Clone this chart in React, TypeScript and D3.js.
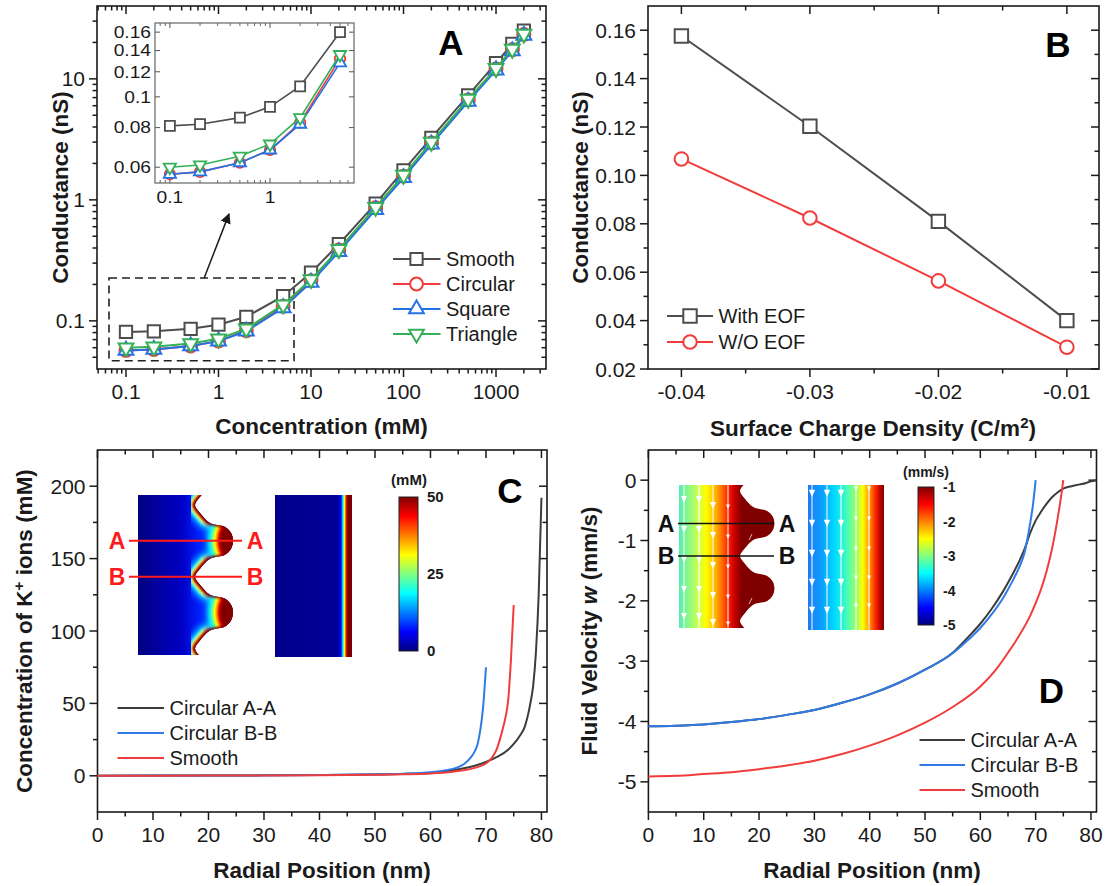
import React from "react";
import * as d3 from "d3";

const FONT = "'Liberation Sans', Arial, Helvetica, sans-serif";
const INK = "#1a1a1a";
const GRAY = "#4d4d4d";
const RED = "#f23c3c";
const BLUE = "#2472e3";
const GREEN = "#34b058";

// ---- A: conductance vs concentration (log-log) ----
const concentration = [0.1, 0.2, 0.5, 1, 2, 5, 10, 20, 50, 100, 200, 500, 1000, 1500, 2000];
const gSmooth = [0.081, 0.082, 0.086, 0.093, 0.108, 0.16, 0.25, 0.43, 0.93, 1.75, 3.25, 7.3, 13.5, 19.5, 25.0];
const gCircular = [0.057, 0.058, 0.062, 0.068, 0.083, 0.132, 0.215, 0.385, 0.86, 1.57, 2.95, 6.7, 12.1, 17.4, 23.3];
const gSquare = [0.057, 0.058, 0.062, 0.068, 0.082, 0.128, 0.208, 0.372, 0.83, 1.52, 2.88, 6.5, 11.8, 17.0, 22.8];
const gTriangle = [0.06, 0.061, 0.065, 0.071, 0.086, 0.136, 0.22, 0.39, 0.87, 1.6, 3.0, 6.8, 12.2, 17.6, 23.5];
const insetPoints = 6; // 0.1 .. 5 mM are repeated in the zoomed inset
const aXTicks = [0.1, 1, 10, 100, 1000];
const aYTicks = [0.1, 1, 10];
const insetXTicks = [0.1, 1];
const insetYTicks = [0.06, 0.08, 0.1, 0.12, 0.14, 0.16];

// ---- B: conductance vs surface charge ----
const surfaceCharge = [-0.04, -0.03, -0.02, -0.01];
const gWithEOF = [0.1576, 0.1203, 0.081, 0.04];
const gWithoutEOF = [0.1068, 0.0824, 0.0564, 0.029];
const bXTicks = [-0.04, -0.03, -0.02, -0.01];
const bYTicks = [0.02, 0.04, 0.06, 0.08, 0.1, 0.12, 0.14, 0.16];

// ---- C: K+ concentration along radial cuts ----
const rAA = [0, 10, 20, 30, 40, 50, 55, 60, 62, 64, 66, 68, 70, 72, 74, 75, 76, 77, 78, 78.5, 79, 79.5, 80];
const kAA = [0.1, 0.15, 0.2, 0.3, 0.5, 0.9, 1.3, 2.0, 2.7, 3.8, 5.2, 7.0, 9.5, 13, 18, 22, 27, 34, 50, 62, 85, 125, 192];
const rBB = [0, 10, 20, 30, 40, 50, 55, 60, 62, 64, 65, 66, 67, 68, 68.5, 69, 69.5, 70];
const kBB = [0.1, 0.15, 0.2, 0.3, 0.5, 1.0, 1.5, 2.5, 3.3, 4.8, 6, 8, 11.5, 17, 22, 32, 48, 75];
const rSm = [0, 10, 20, 30, 40, 50, 55, 60, 64, 66, 68, 70, 71, 71.5, 72, 72.5, 73, 73.5, 74, 74.5, 75];
const kSm = [0.1, 0.12, 0.15, 0.2, 0.35, 0.7, 1.0, 1.6, 2.8, 3.8, 5.5, 8.5, 12, 15, 19, 25, 32, 40, 52, 80, 118];
const cYTicks = [0, 50, 100, 150, 200];
const radialTicks = [0, 10, 20, 30, 40, 50, 60, 70, 80];
const concBarTicks = [0, 25, 50];

// ---- D: fluid velocity along radial cuts ----
const vAAr = [0, 5, 10, 15, 20, 25, 30, 35, 40, 45, 50, 55, 58, 60, 62, 64, 65, 66, 67, 68, 69, 70, 71, 72, 73, 74, 75, 76, 77, 78, 79, 80, 81];
const vAA = [-4.08, -4.07, -4.05, -4.01, -3.96, -3.89, -3.81, -3.69, -3.55, -3.37, -3.14, -2.86, -2.58, -2.38, -2.14, -1.86, -1.7, -1.53, -1.35, -1.14, -0.88, -0.67, -0.52, -0.39, -0.28, -0.2, -0.14, -0.11, -0.09, -0.07, -0.05, -0.02, 0.0];
const vBBr = [0, 5, 10, 15, 20, 25, 30, 35, 40, 45, 50, 55, 58, 60, 62, 64, 65, 66, 67, 68, 68.5, 69, 69.5, 70];
const vBB = [-4.08, -4.07, -4.05, -4.01, -3.96, -3.89, -3.81, -3.69, -3.55, -3.37, -3.14, -2.87, -2.63, -2.45, -2.23, -1.97, -1.81, -1.64, -1.45, -1.2, -0.98, -0.72, -0.42, 0.0];
const vSmr = [0, 5, 10, 15, 20, 25, 30, 35, 40, 45, 50, 55, 60, 63, 65, 67, 69, 70, 71, 72, 73, 74, 74.5, 75];
const vSm = [-4.91, -4.9, -4.87, -4.84, -4.79, -4.73, -4.65, -4.54, -4.4, -4.23, -4.02, -3.76, -3.42, -3.12, -2.86, -2.58, -2.25, -2.04, -1.8, -1.5, -1.12, -0.62, -0.33, 0.0];
const dYTicks = [-5, -4, -3, -2, -1, 0];
const velBarTicks = [-5, -4, -3, -2, -1];

// jet colormap used by the simulation insets
const jetStops = [
  [0, "#00007f"], [0.125, "#0000ff"], [0.375, "#00ffff"],
  [0.625, "#ffff00"], [0.875, "#ff0000"], [1, "#7f0000"],
];

const logMinor = (lo: number, hi: number) => {
  const out: number[] = [];
  for (let e = -3; e <= 4; e++)
    for (let k = 2; k <= 9; k++) {
      const v = +(k * Math.pow(10, e)).toPrecision(3);
      if (v > lo && v < hi) out.push(v);
    }
  return out;
};

const Axes = ({ x, y, xMajor, xMinor, yMajor, yMinor, fmtX = String, fmtY = String }: any) => {
  const [xl, xr] = x.range();
  const [yb, yt] = y.range();
  const big = 8, small = 4.5;
  const seg = (key: string, x1: number, y1: number, x2: number, y2: number) => (
    <line key={key} x1={x1} y1={y1} x2={x2} y2={y2} stroke={INK} strokeWidth={1.5} />
  );
  return (
    <g fontFamily={FONT} fontSize={21} fill={INK}>
      {xMajor.map((v: number) => [seg(`b${v}`, x(v), yb, x(v), yb + big), seg(`t${v}`, x(v), yt, x(v), yt + big)])}
      {xMinor.map((v: number) => [seg(`b${v}`, x(v), yb, x(v), yb + small), seg(`t${v}`, x(v), yt, x(v), yt + small)])}
      {yMajor.map((v: number) => [seg(`l${v}`, xl - big, y(v), xl, y(v)), seg(`r${v}`, xr - big, y(v), xr, y(v))])}
      {yMinor.map((v: number) => [seg(`l${v}`, xl - small, y(v), xl, y(v)), seg(`r${v}`, xr - small, y(v), xr, y(v))])}
      <rect x={xl} y={yt} width={xr - xl} height={yb - yt} fill="none" stroke={INK} strokeWidth={1.6} />
      {xMajor.map((v: number) => (
        <text key={`xl${v}`} x={x(v)} y={yb + 29.5} textAnchor="middle">{fmtX(v)}</text>
      ))}
      {yMajor.map((v: number) => (
        <text key={`yl${v}`} x={xl - 12} y={y(v)} dy="0.36em" textAnchor="end">{fmtY(v)}</text>
      ))}
    </g>
  );
};

const symbolPath = (kind: string, size: number) => {
  const t = kind === "square" ? d3.symbolSquare : kind === "circle" ? d3.symbolCircle : d3.symbolTriangle;
  return d3.symbol(t, size)() as string;
};

const Markers = ({ xs, ys, x, y, kind, size, color, sw = 2 }: any) => {
  const d = symbolPath(kind, size);
  const rot = kind === "down" ? " rotate(180)" : "";
  return (
    <g>
      {xs.map((xv: number, i: number) => (
        <path key={i} d={d} transform={`translate(${x(xv)},${y(ys[i])})${rot}`} fill="#fff" stroke={color} strokeWidth={sw} />
      ))}
    </g>
  );
};

const polyline = (xs: number[], ys: number[], x: any, y: any, curve: any = d3.curveLinear) =>
  d3.line<number>().x((_, i) => x(xs[i])).y((v) => y(v)).curve(curve)(ys) as string;

// wall shape of the circular-roughness pore: one period, (dy along pore, dx into wall)
const wallProfile = [[0, 0], [8, 5], [18, 15], [22, 30], [28, 36], [35.85, 38], [43.7, 36], [49.7, 30], [53.7, 15], [63.7, 5]];
const WALL_PERIOD = 71.7;

const wallPoints = (baseX: number, y0: number, s: number, top: number, bottom: number) => {
  const pts: [number, number][] = [];
  for (let k = -2; k <= 4; k++)
    for (const [dy, dx] of wallProfile) {
      const yy = y0 + (k * WALL_PERIOD + dy) * s;
      if (yy >= top - WALL_PERIOD * s && yy <= bottom + WALL_PERIOD * s) pts.push([baseX + dx * s, yy]);
    }
  return pts;
};

const wallGeometry = (left: number, baseX: number, y0: number, s: number, top: number, bottom: number) => {
  const pts = wallPoints(baseX, y0, s, top, bottom);
  const wall = d3.line().curve(d3.curveCatmullRom.alpha(0.5))(pts) as string;
  const first = pts[0], last = pts[pts.length - 1];
  const domain = `${wall}L${left},${last[1]}L${left},${first[1]}Z`;
  const lobes = d3.range(-1, 4).map((k) => y0 + (k * WALL_PERIOD + 35.85) * s).filter((v) => v > top && v < bottom);
  return { wall, domain, lobes };
};

const Colorbar = ({ id, x, y, w, h, scale, ticks, fontSize }: any) => (
  <g>
    <defs>
      <linearGradient id={id} x1="0" y1="1" x2="0" y2="0">
        {jetStops.map(([o, c]) => <stop key={o} offset={o as number} stopColor={c as string} />)}
      </linearGradient>
    </defs>
    <rect x={x} y={y} width={w} height={h} fill={`url(#${id})`} stroke="#222" strokeWidth={1} />
    {ticks.map((t: number) => (
      <text key={t} x={x + w + 9} y={scale(t)} dy="0.36em" fontFamily={FONT} fontWeight="bold" fontSize={fontSize} fill={INK}>{t}</text>
    ))}
  </g>
);

const ConcentrationMaps = () => {
  const left = 138, top = 495, bottom = 655, baseX = 195, y0 = 505, s = 1;
  const { wall, domain, lobes } = wallGeometry(left, baseX, y0, s, top, bottom);
  const bands: [number, string][] = [
    [14, "#0030ff"], [10.5, "#0068ff"], [8, "#00b0ff"], [6.3, "#00ffff"], [5.1, "#80ff80"], [4.2, "#ffff00"],
    [3.3, "#ff8000"], [2.5, "#ff0000"], [1.7, "#a00000"], [1, "#800000"],
  ];
  const barScale = d3.scaleLinear().domain([0, 50]).range([651, 497]);
  const aY = y0 + 35.85 * s, bY = y0 + WALL_PERIOD * s;
  return (
    <g>
      <defs>
        <clipPath id="cBox"><rect x={left} y={top} width={120} height={bottom - top} /></clipPath>
        <clipPath id="cDomain"><path d={domain} /></clipPath>
        <linearGradient id="cBulk" gradientUnits="userSpaceOnUse" x1={left} x2={baseX + 5} y1={0} y2={0}>
          <stop offset="0" stopColor="#000080" />
          <stop offset="0.7" stopColor="#0000c4" />
          <stop offset="1" stopColor="#0020ff" />
        </linearGradient>
        {lobes.map((ly, i) => (
          <radialGradient key={i} id={`cLobe${i}`} gradientUnits="userSpaceOnUse" cx={baseX + 55 * s} cy={ly} r={60 * s}>
            <stop offset="0.47" stopColor="#800000" />
            <stop offset="0.52" stopColor="#e00000" />
            <stop offset="0.55" stopColor="#ff8000" />
            <stop offset="0.59" stopColor="#ffff00" />
            <stop offset="0.64" stopColor="#40ffc0" />
            <stop offset="0.69" stopColor="#00e0ff" stopOpacity="0.9" />
            <stop offset="0.77" stopColor="#0060ff" stopOpacity="0.45" />
            <stop offset="0.86" stopColor="#0030ff" stopOpacity="0" />
          </radialGradient>
        ))}
        <linearGradient id="cFlat" gradientUnits="userSpaceOnUse" x1={275} x2={352} y1={0} y2={0}>
          <stop offset="0" stopColor="#00008a" />
          <stop offset="0.818" stopColor="#000098" />
          <stop offset="0.857" stopColor="#0000ff" />
          <stop offset="0.883" stopColor="#00ffff" />
          <stop offset="0.903" stopColor="#ffff00" />
          <stop offset="0.922" stopColor="#ff2000" />
          <stop offset="0.942" stopColor="#800000" />
          <stop offset="1" stopColor="#800000" />
        </linearGradient>
        <filter id="cSoft"><feGaussianBlur stdDeviation="0.8" /></filter>
      </defs>
      <g clipPath="url(#cBox)">
        <g clipPath="url(#cDomain)">
          <rect x={left} y={top - 10} width={130} height={bottom - top + 20} fill="url(#cBulk)" />
          <g filter="url(#cSoft)">
            {bands.map(([w, c]) => <path key={c} d={wall} fill="none" stroke={c} strokeWidth={2 * w} />)}
          </g>
          {lobes.map((ly, i) => (
            <rect key={i} x={left} y={top - 10} width={130} height={bottom - top + 20} fill={`url(#cLobe${i})`} />
          ))}
          <path d={wall} fill="none" stroke="#8a0000" strokeWidth={3} filter="url(#cSoft)" />
        </g>
      </g>
      <rect x={275} y={495} width={77} height={162} fill="url(#cFlat)" />
      <g stroke="#ff1a1a" strokeWidth={2}>
        <line x1={129} x2={242} y1={aY} y2={aY} />
        <line x1={129} x2={242} y1={bY} y2={bY} />
      </g>
      <g fontFamily={FONT} fontWeight="bold" fontSize={23} fill="#ff1a1a" textAnchor="middle">
        <text x={117} y={aY} dy="0.36em">A</text>
        <text x={255} y={aY} dy="0.36em">A</text>
        <text x={117} y={bY} dy="0.36em">B</text>
        <text x={255} y={bY} dy="0.36em">B</text>
      </g>
      <Colorbar id="cJet" x={399} y={497} w={19} h={154} scale={barScale} ticks={concBarTicks} fontSize={15} />
      <text x={409} y={480} dy="0.36em" textAnchor="middle" fontFamily={FONT} fontWeight="bold" fontSize={15} fill={INK}>(mM)</text>
    </g>
  );
};

const VelocityMaps = () => {
  const left = 679, top = 485, bottom = 628, baseX = 740, y0 = 491, s = 0.906;
  const { domain } = wallGeometry(left, baseX, y0, s, top, bottom);
  const barScale = d3.scaleLinear().domain([-5, -1]).range([625, 487]);
  const aY = y0 + 35.85 * s, bY = y0 + WALL_PERIOD * s;
  const arrow = (cx: number, cy: number, k: string, sz = 3) => (
    <path key={k} d={`M${cx - sz},${cy - 2.3 * sz}L${cx + sz},${cy - 2.3 * sz}L${cx},${cy}Z`} fill="#fff" />
  );
  const cols1 = [684, 699, 713, 728];
  const rows1 = [503, 533, 563, 593, 620];
  const cols2 = [812, 827, 841, 856, 869];
  const rows2 = [497, 527, 557, 586, 614];
  return (
    <g>
      <defs>
        <clipPath id="dBox"><rect x={left} y={top} width={120} height={bottom - top} /></clipPath>
        <clipPath id="dDomain"><path d={domain} /></clipPath>
        <linearGradient id="dRough" gradientUnits="userSpaceOnUse" x1={679} x2={742} y1={0} y2={0}>
          <stop offset="0" stopColor="#58ecb4" />
          <stop offset="0.17" stopColor="#90fa80" />
          <stop offset="0.33" stopColor="#d8ff40" />
          <stop offset="0.43" stopColor="#ffff00" />
          <stop offset="0.56" stopColor="#ffc000" />
          <stop offset="0.68" stopColor="#ff7000" />
          <stop offset="0.78" stopColor="#ff2000" />
          <stop offset="0.87" stopColor="#d00000" />
          <stop offset="0.97" stopColor="#900000" />
          <stop offset="1" stopColor="#800000" />
        </linearGradient>
        <linearGradient id="dFlat" gradientUnits="userSpaceOnUse" x1={808} x2={884} y1={0} y2={0}>
          <stop offset="0" stopColor="#2078f4" />
          <stop offset="0.18" stopColor="#0aa0ff" />
          <stop offset="0.37" stopColor="#00e0ff" />
          <stop offset="0.53" stopColor="#50ffb0" />
          <stop offset="0.66" stopColor="#b0ff50" />
          <stop offset="0.72" stopColor="#ffff00" />
          <stop offset="0.8" stopColor="#ffa000" />
          <stop offset="0.88" stopColor="#ff3000" />
          <stop offset="0.95" stopColor="#c00000" />
          <stop offset="1" stopColor="#800000" />
        </linearGradient>
      </defs>
      <g clipPath="url(#dBox)">
        <g clipPath="url(#dDomain)">
          <rect x={left} y={top - 10} width={130} height={bottom - top + 20} fill="url(#dRough)" />
          <g stroke="#fff" strokeWidth={1.1} opacity={0.9}>
            {cols1.map((c) => <line key={c} x1={c} x2={c} y1={top} y2={bottom} />)}
          </g>
          {cols1.map((c) => rows1.map((r, j) => arrow(c, r + (c % 3) * 3, `${c}-${j}`, c > 720 ? 2 : 3)))}
          <g stroke="#fff" strokeWidth={1} opacity={0.7}>
            <line x1={746} y1={496} x2={749} y2={503} />
            <line x1={752} y1={534} x2={749} y2={540} />
            <line x1={746} y1={561} x2={749} y2={568} />
            <line x1={752} y1={598} x2={749} y2={604} />
          </g>
        </g>
      </g>
      <rect x={808} y={485} width={76} height={145} fill="url(#dFlat)" />
      <g stroke="#fff" strokeWidth={1.1} opacity={0.9}>
        {cols2.map((c) => <line key={c} x1={c} x2={c} y1={485} y2={630} />)}
      </g>
      {cols2.map((c, i) => rows2.map((r, j) => arrow(c, r + (i > 2 ? -6 : 0), `${c}-${j}`, i > 2 ? 2 : 3.2)))}
      <g stroke="#111" strokeWidth={1.6}>
        <line x1={678} x2={774} y1={aY} y2={aY} />
        <line x1={678} x2={774} y1={bY} y2={bY} />
      </g>
      <g fontFamily={FONT} fontWeight="bold" fontSize={23} fill="#111" textAnchor="middle">
        <text x={666} y={aY} dy="0.36em">A</text>
        <text x={787} y={aY} dy="0.36em">A</text>
        <text x={666} y={bY} dy="0.36em">B</text>
        <text x={787} y={bY} dy="0.36em">B</text>
      </g>
      <Colorbar id="dJet" x={918} y={487} w={16} h={138} scale={barScale} ticks={velBarTicks} fontSize={14} />
      <text x={926} y={472} dy="0.36em" textAnchor="middle" fontFamily={FONT} fontWeight="bold" fontSize={14} fill={INK}>(mm/s)</text>
    </g>
  );
};

const App = () => {
  const xA = d3.scaleLog().domain([0.0486, 3470]).range([97, 546]);
  const yA = d3.scaleLog().domain([0.04, 40]).range([369, 6]);
  const xI = d3.scaleLog().domain([0.071, 6.9]).range([155, 354]);
  const yI = d3.scaleLog().domain([0.0535, 0.171]).range([183, 23]);
  const xB = d3.scaleLinear().domain([-0.0426, -0.0075]).range([648, 1099]);
  const yB = d3.scaleLinear().domain([0.02, 0.17]).range([369, 6]);
  const xC = d3.scaleLinear().domain([0, 81]).range([97.5, 547]);
  const yC = d3.scaleLinear().domain([-25, 225]).range([812, 450]);
  const xD = d3.scaleLinear().domain([0, 81]).range([648.4, 1096.5]);
  const yD = d3.scaleLinear().domain([-5.5, 0.5]).range([812, 450]);

  const seriesA = [
    { name: "Smooth", values: gSmooth, color: GRAY, kind: "square", size: 150, isize: 100 },
    { name: "Circular", values: gCircular, color: RED, kind: "circle", size: 130, isize: 85 },
    { name: "Square", values: gSquare, color: BLUE, kind: "up", size: 95, isize: 65 },
    { name: "Triangle", values: gTriangle, color: GREEN, kind: "down", size: 95, isize: 65 },
  ];
  const seriesB = [
    { name: "With EOF", values: gWithEOF, color: GRAY, kind: "square", size: 180 },
    { name: "W/O EOF", values: gWithoutEOF, color: RED, kind: "circle", size: 145 },
  ];
  const seriesC = [
    { name: "Circular A-A", xs: rAA, ys: kAA, color: "#3c3c3c" },
    { name: "Circular B-B", xs: rBB, ys: kBB, color: "#2f7ae6" },
    { name: "Smooth", xs: rSm, ys: kSm, color: "#f03c3c" },
  ];
  const seriesD = [
    { name: "Circular A-A", xs: vAAr, ys: vAA, color: "#3c3c3c" },
    { name: "Circular B-B", xs: vBBr, ys: vBB, color: "#2f7ae6" },
    { name: "Smooth", xs: vSmr, ys: vSm, color: "#f03c3c" },
  ];
  const insetConc = concentration.slice(0, insetPoints);

  const legendRow = (key: string, x1: number, x2: number, y: number, color: string, label: string, marker?: any) => (
    <g key={key}>
      <line x1={x1} x2={x2} y1={y} y2={y} stroke={color} strokeWidth={2} />
      {marker}
      <text x={x2 + 5.5} y={y} dy="0.36em" fontFamily={FONT} fontSize={20} fill={INK}>{label}</text>
    </g>
  );
  const legendMarker = (kind: string, size: number, color: string, cx: number, cy: number) => (
    <path d={symbolPath(kind, size)} transform={`translate(${cx},${cy})${kind === "down" ? " rotate(180)" : ""}`} fill="#fff" stroke={color} strokeWidth={2} />
  );
  const title = { fontFamily: FONT, fontWeight: "bold" as const, fontSize: 22.5, fill: INK };

  return (
    <svg width={1107} height={886} style={{ position: "absolute", left: 0, top: 0, background: "#fff" }}>
      <defs>
        <marker id="arrowHead" viewBox="0 0 10 10" refX="9" refY="5" markerWidth="7" markerHeight="7" orient="auto">
          <path d="M0,0 L10,5 L0,10 z" fill={INK} />
        </marker>
      </defs>

      {/* ---------------- A ---------------- */}
      <Axes x={xA} y={yA} xMajor={aXTicks} xMinor={logMinor(0.0486, 3470)} yMajor={aYTicks} yMinor={logMinor(0.04, 40)} />
      <rect x={xA(0.0655)} y={yA(0.226)} width={xA(6.55) - xA(0.0655)} height={yA(0.0468) - yA(0.226)}
        fill="none" stroke="#222" strokeWidth={1.6} strokeDasharray="8,5" />
      <line x1={xA(0.7)} y1={yA(0.226)} x2={xA(1.3)} y2={yA(0.766)} stroke={INK} strokeWidth={1.5} markerEnd="url(#arrowHead)" />
      {seriesA.map((s) => (
        <g key={s.name}>
          <path d={polyline(concentration, s.values, xA, yA)} fill="none" stroke={s.color} strokeWidth={2} />
          <Markers xs={concentration} ys={s.values} x={xA} y={yA} kind={s.kind} size={s.size} color={s.color} />
        </g>
      ))}
      {seriesA.map((s, i) =>
        legendRow(`la${i}`, 393, 440.5, 259 + 25 * i, s.color, s.name, legendMarker(s.kind, s.size, s.color, 416.5, 259 + 25 * i))
      )}
      <text x={451} y={55} textAnchor="middle" fontFamily={FONT} fontWeight="bold" fontSize={35} fill="#000">A</text>

      {/* inset of A */}
      <g>
        <rect x={155} y={23} width={199} height={160} fill="#fff" stroke="#666" strokeWidth={1.2} />
        {insetXTicks.map((v) => (
          <g key={v}>
            <line x1={xI(v)} x2={xI(v)} y1={183} y2={178} stroke="#555" strokeWidth={1} />
            <line x1={xI(v)} x2={xI(v)} y1={23} y2={28} stroke="#555" strokeWidth={1} />
            <text transform={`translate(${xI(v)},203) scale(1.2,1)`} textAnchor="middle" fontFamily={FONT} fontSize={16} fill={INK}>{v}</text>
          </g>
        ))}
        {logMinor(0.071, 6.9).map((v) => (
          <g key={v}>
            <line x1={xI(v)} x2={xI(v)} y1={183} y2={180} stroke="#666" strokeWidth={1} />
            <line x1={xI(v)} x2={xI(v)} y1={23} y2={26} stroke="#666" strokeWidth={1} />
          </g>
        ))}
        {insetYTicks.map((v) => (
          <g key={v}>
            <line x1={155} x2={160} y1={yI(v)} y2={yI(v)} stroke="#555" strokeWidth={1} />
            <line x1={349} x2={354} y1={yI(v)} y2={yI(v)} stroke="#555" strokeWidth={1} />
            <text transform={`translate(151,${yI(v)}) scale(1.2,1)`} dy="0.36em" textAnchor="end" fontFamily={FONT} fontSize={16} fill={INK}>{v}</text>
          </g>
        ))}
        {seriesA.map((s) => (
          <g key={s.name}>
            <path d={polyline(insetConc, s.values.slice(0, insetPoints), xI, yI)} fill="none" stroke={s.color} strokeWidth={1.6} />
            <Markers xs={insetConc} ys={s.values} x={xI} y={yI} kind={s.kind} size={s.isize} color={s.color} sw={1.8} />
          </g>
        ))}
      </g>
      <text transform="translate(60,187.5) rotate(-90)" textAnchor="middle" dy="0.36em" {...title}>Conductance (nS)</text>
      <text x={321.5} y={434} textAnchor="middle" {...title}>Concentration (mM)</text>

      {/* ---------------- B ---------------- */}
      <Axes x={xB} y={yB} xMajor={bXTicks} xMinor={[-0.035, -0.025, -0.015]} yMajor={bYTicks}
        yMinor={[0.03, 0.05, 0.07, 0.09, 0.11, 0.13, 0.15]} fmtX={(v: number) => v.toFixed(2)} fmtY={(v: number) => v.toFixed(2)} />
      {seriesB.map((s) => (
        <g key={s.name}>
          <path d={polyline(surfaceCharge, s.values, xB, yB)} fill="none" stroke={s.color} strokeWidth={2} />
          <Markers xs={surfaceCharge} ys={s.values} x={xB} y={yB} kind={s.kind} size={s.size} color={s.color} />
        </g>
      ))}
      {seriesB.map((s, i) =>
        legendRow(`lb${i}`, 667, 713, 316 + 26 * i, s.color, s.name, legendMarker(s.kind, s.size, s.color, 690, 316 + 26 * i))
      )}
      <text x={1058} y={57} textAnchor="middle" fontFamily={FONT} fontWeight="bold" fontSize={35} fill="#000">B</text>
      <text transform="translate(580,187.5) rotate(-90)" textAnchor="middle" dy="0.36em" {...title}>Conductance (nS)</text>
      <text x={873} y={436} textAnchor="middle" {...title}>
        Surface Charge Density (C/m<tspan dy={-8} fontSize={15}>2</tspan><tspan dy={8}>)</tspan>
      </text>

      {/* ---------------- C ---------------- */}
      <Axes x={xC} y={yC} xMajor={radialTicks} xMinor={[5, 15, 25, 35, 45, 55, 65, 75]} yMajor={cYTicks} yMinor={[25, 75, 125, 175]} />
      <ConcentrationMaps />
      {seriesC.map((s) => (
        <path key={s.name} d={polyline(s.xs, s.ys, xC, yC, d3.curveMonotoneX)} fill="none" stroke={s.color} strokeWidth={2} />
      ))}
      {seriesC.map((s, i) => legendRow(`lc${i}`, 117.5, 164, 708 + 25 * i, s.color, s.name))}
      <text x={510} y={503} textAnchor="middle" fontFamily={FONT} fontWeight="bold" fontSize={35} fill="#000">C</text>
      <text transform="translate(24,631) rotate(-90)" textAnchor="middle" dy="0.36em" {...title}>
        Concentration of K<tspan dy={-8} fontSize={15}>+</tspan><tspan dy={8}> ions (mM)</tspan>
      </text>
      <text x={322} y={878} textAnchor="middle" {...title}>Radial Position (nm)</text>

      {/* ---------------- D ---------------- */}
      <Axes x={xD} y={yD} xMajor={radialTicks} xMinor={[5, 15, 25, 35, 45, 55, 65, 75]} yMajor={dYTicks}
        yMinor={[-4.5, -3.5, -2.5, -1.5, -0.5]} />
      <VelocityMaps />
      {seriesD.map((s) => (
        <path key={s.name} d={polyline(s.xs, s.ys, xD, yD, d3.curveMonotoneX)} fill="none" stroke={s.color} strokeWidth={2} />
      ))}
      {seriesD.map((s, i) => legendRow(`ld${i}`, 919.5, 965, 740 + 25 * i, s.color, s.name))}
      <text x={1051.5} y={703} textAnchor="middle" fontFamily={FONT} fontWeight="bold" fontSize={35} fill="#000">D</text>
      <text transform="translate(589,631) rotate(-90)" textAnchor="middle" dy="0.36em" {...title}>
        Fluid Velocity <tspan fontStyle="italic">w</tspan> (mm/s)
      </text>
      <text x={872} y={878} textAnchor="middle" {...title}>Radial Position (nm)</text>
    </svg>
  );
};

export default App;
